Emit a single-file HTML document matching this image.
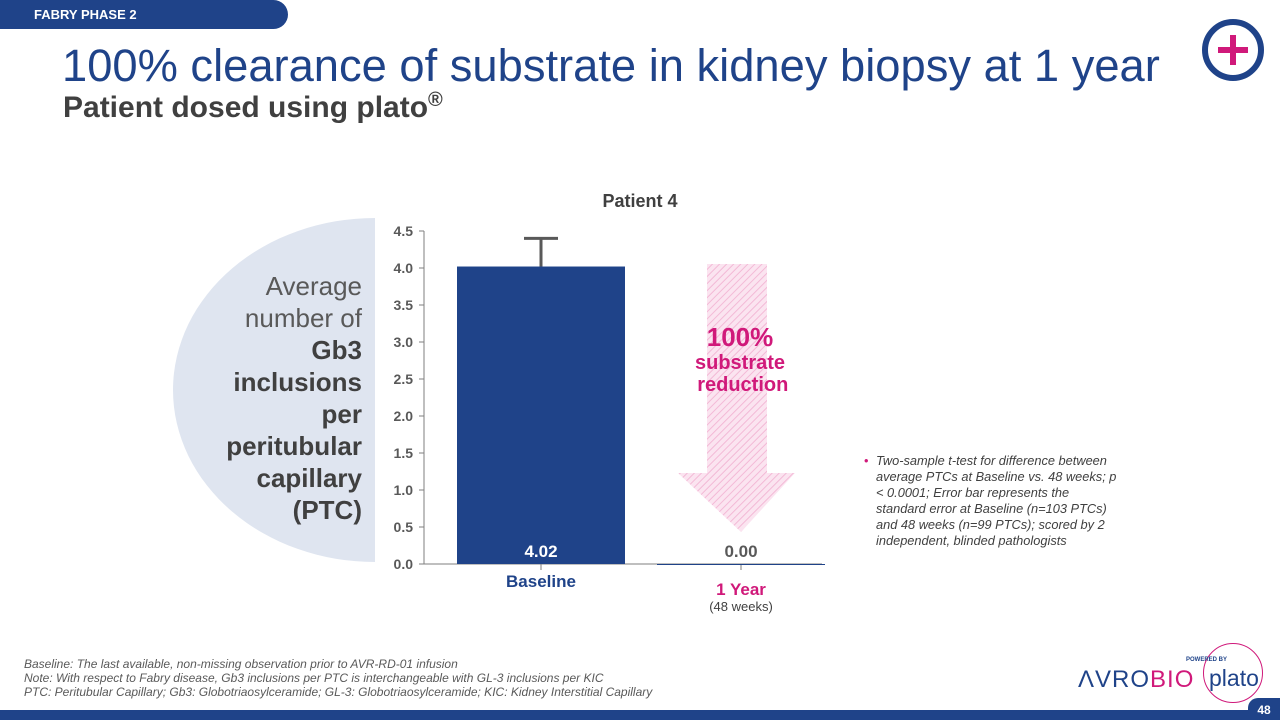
<!DOCTYPE html>
<html><head><meta charset="utf-8"><style>
body{margin:0;width:1280px;height:720px;position:relative;overflow:hidden;background:#fff;font-family:"Liberation Sans",sans-serif}
.a{position:absolute}
</style></head><body>
<div class="a" style="left:0;top:0;width:288px;height:29px;background:#1f4389;border-radius:0 15px 15px 0"></div>
<div class="a" style="left:34px;top:7px;color:#fff;font-weight:bold;font-size:13px">FABRY PHASE 2</div>
<div class="a" style="left:62px;top:40px;color:#1f4389;font-size:45.3px;white-space:nowrap">100% clearance of substrate in kidney biopsy at 1 year</div>
<div class="a" style="left:63px;top:89px;color:#404040;font-size:30px;font-weight:bold;white-space:nowrap">Patient dosed using plato<sup style="font-size:20px">®</sup></div>
<svg class="a" style="left:1200px;top:17px" width="66" height="66"><circle cx="33" cy="33" r="28" fill="none" stroke="#1f4389" stroke-width="6"/><path d="M33 18v30M18 33h30" stroke="#d0197a" stroke-width="6"/></svg>
<svg class="a" style="left:0;top:0" width="1280" height="720">
<defs><pattern id="h" width="5" height="5" patternUnits="userSpaceOnUse" patternTransform="rotate(45)"><rect width="5" height="5" fill="#fbe4f0"/><line x1="0" y1="0" x2="0" y2="5" stroke="#f3b9d6" stroke-width="2"/></pattern></defs>
<ellipse cx="375" cy="390" rx="202" ry="172" fill="#dfe5f0"/>
<rect x="375" y="200" width="300" height="380" fill="#fff"/>
<polygon points="707,264 767,264 767,473 795,473 741,532 678,473 707,473" fill="url(#h)"/>
<g id="g"></g>
</svg>
<div class="a" style="left:190px;top:270px;width:172px;text-align:right;font-size:26px;line-height:32px;color:#595959">Average number of <b style="color:#404040">Gb3 inclusions per peritubular capillary (PTC)</b></div>
<div class="a" style="left:540px;top:191px;width:200px;text-align:center;font-size:18px;font-weight:bold;color:#404040">Patient 4</div>
<div class="a" style="left:640px;top:322px;width:200px;text-align:center;color:#d0197a;font-weight:bold;font-size:20px;line-height:22px"><span style="font-size:26px;line-height:30px">100%</span><br>substrate<br>&nbsp;reduction</div>
<div class="a" style="left:641px;top:599px;width:200px;text-align:center;font-size:13px;color:#404040">(48 weeks)</div>
<div class="a" style="left:864px;top:453px;width:256px;font-size:12.8px;font-style:italic;color:#404040;line-height:16px"><span style="color:#d0197a;position:absolute;left:0;font-style:normal">•</span><div style="margin-left:12px">Two-sample t-test for difference between average PTCs at Baseline vs. 48 weeks; p &lt; 0.0001; Error bar represents the standard error at Baseline (n=103 PTCs) and 48 weeks (n=99 PTCs); scored by 2 independent, blinded pathologists</div></div>
<div class="a" style="left:24px;top:657px;font-size:12px;font-style:italic;color:#595959;line-height:14px">Baseline: The last available, non-missing observation prior to AVR-RD-01 infusion<br>Note: With respect to Fabry disease, Gb3 inclusions per PTC is interchangeable with GL-3 inclusions per KIC<br>PTC: Peritubular Capillary; Gb3: Globotriaosylceramide; GL-3: Globotriaosylceramide; KIC: Kidney Interstitial Capillary</div>
<div class="a" style="left:1078px;top:666px;font-size:24px;letter-spacing:1px;white-space:nowrap"><span style="color:#1f4389">ΛVRO</span><span style="color:#d0197a">BIO</span></div>
<div class="a" style="left:1203px;top:643px;width:58px;height:58px;border:1.5px solid #d0197a;border-radius:50%"></div>
<div class="a" style="left:1209px;top:665px;font-size:23px;color:#1f4389">plato</div>
<div class="a" style="left:1186px;top:657px;font-size:6px;font-weight:bold;color:#1f4389">POWERED BY</div>
<div class="a" style="left:0;top:710px;width:1280px;height:10px;background:#1f4389"></div>
<div class="a" style="left:1248px;top:698px;width:32px;height:22px;background:#1f4389;border-radius:10px 0 0 0;color:#fff;font-size:12px;font-weight:bold;text-align:center;line-height:24px">48</div>
<script>
const categories=["Baseline","1 Year"];
const values=[4.02,0.00];
const errors=[0.38,0];
const ticks=[0,0.5,1,1.5,2,2.5,3,3.5,4,4.5];
const tickLabels=["0.0","0.5","1.0","1.5","2.0","2.5","3.0","3.5","4.0","4.5"];
const NS="http://www.w3.org/2000/svg",g=document.getElementById('g');
const y=v=>564-v*74, x=i=>541+i*200;
function el(t,a,txt){const e=document.createElementNS(NS,t);for(const k in a)e.setAttribute(k,a[k]);if(txt!=null)e.textContent=txt;g.appendChild(e);return e;}
const ax=el('line',{x1:424,y1:y(4.5),x2:424,y2:564,stroke:'#7f7f7f'});


const xa=el('line',{x1:424,y1:564,x2:822,y2:564,stroke:'#7f7f7f'});


ticks.forEach((t,i)=>{
 el('line',{x1:419,y1:y(t),x2:424,y2:y(t),stroke:'#7f7f7f'});
 const l=el('text',{x:413,y:y(t)+5,'text-anchor':'end','font-size':14,'font-weight':'bold',fill:'#595959'},tickLabels[i]);
 
 
});
categories.forEach((c,i)=>{
 const cx=x(i);
 el('line',{x1:cx,y1:564,x2:cx,y2:570,stroke:'#7f7f7f'});
 const b=el('rect',{x:cx-84,y:y(values[i]),width:168,height:Math.max(564-y(values[i]),1),fill:'#1f4389'});
 
 
 if(errors[i]>0){
  const e1=el('path',{d:`M${cx} ${y(values[i])}V${y(values[i]+errors[i])}M${cx-17} ${y(values[i]+errors[i])}H${cx+17}`,stroke:'#595959','stroke-width':3,fill:'none'});
  
  
 }
 const v=el('text',{x:cx,y:557,'text-anchor':'middle','font-size':17,'font-weight':'bold',fill:i?'#595959':'#fff'},values[i].toFixed(2));
 
 
 const cl=el('text',{x:cx,y:i?595:587,'text-anchor':'middle','font-size':17,'font-weight':'bold',fill:i?'#d0197a':'#1f4389'},c);
 
 
});
</script>
</body></html>
